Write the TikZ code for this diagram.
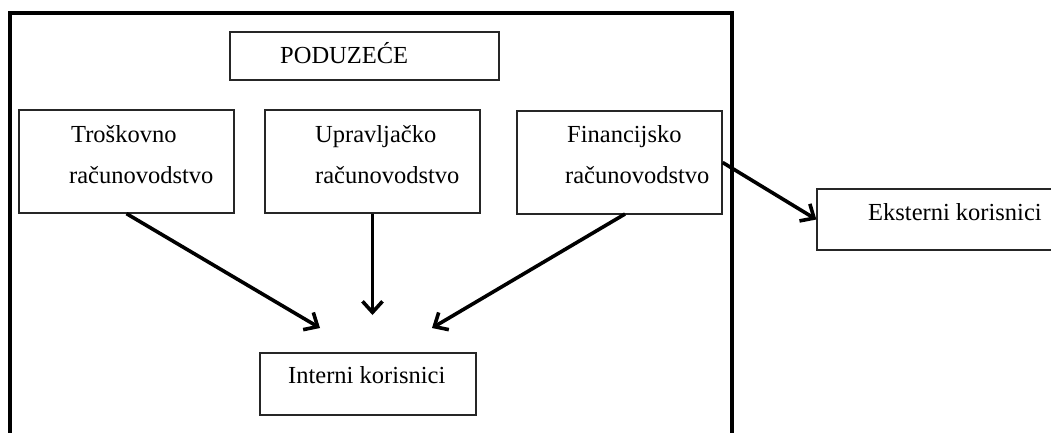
\documentclass[tikz,border=0pt]{standalone}
\usepackage{fontspec}
\setmainfont{Liberation Serif}
\usetikzlibrary{arrows.meta}
\begin{document}
\begin{tikzpicture}[x=1pt,y=-1pt,
  box/.style={draw=black!85, line width=1.3pt, rectangle, inner sep=0pt},
  txt/.style={anchor=base west, inner sep=0pt, font=\fontsize{24.5}{28}\selectfont},
  arr/.style={line width=3.6pt, -{Straight Barb[length=11pt,width=20pt]}},
  frame/.style={line width=4.2pt}]
\clip (0,0) rectangle (1051,432);
\fill[white] (0,0) rectangle (1051,432);
% outer frame (open at the bottom, cut by the page)
\draw[frame] (10,450) -- (10,13) -- (732,13) -- (732,450);
% boxes
\node[box, minimum width=269pt, minimum height=48pt] (pod) at (364.5,56) {};
\node[box, minimum width=215pt, minimum height=103pt] (tro) at (126.5,161.5) {};
\node[box, minimum width=215pt, minimum height=103pt] (upr) at (372.5,161.5) {};
\node[box, minimum width=205pt, minimum height=103pt] (fin) at (619.5,162.5) {};
\node[box, minimum width=250pt, minimum height=61pt] (ext) at (942,219.5) {};
\node[box, minimum width=216pt, minimum height=62pt] (int) at (368,384) {};
% texts
\node[txt] (podt) at (280,63) {PODUZEĆE};
\node[txt] (trot1) at (71,142) {Troškovno};
\node[txt] (trot2) at (69,183) {računovodstvo};
\node[txt] (uprt1) at (315,142) {Upravljačko};
\node[txt] (uprt2) at (315,183) {računovodstvo};
\node[txt] (fint1) at (567,142) {Financijsko};
\node[txt] (fint2) at (565,183) {računovodstvo};
\node[txt] (extt) at (868,220) {Eksterni korisnici};
\node[txt] (intt) at (288,383) {Interni korisnici};
% arrow ends
\coordinate (e1) at (320,328);
\coordinate (e2) at (372.5,315);
\coordinate (e3) at (432,328);
\coordinate (s3) at (625,214);
% arrows
\draw[arr] (tro.south) -- (e1);
\draw[arr] (upr.south) -- (e2);
\draw[arr] (s3) -- (e3);
\draw[arr] (fin.east) -- (ext.west);
\end{tikzpicture}
\end{document}
